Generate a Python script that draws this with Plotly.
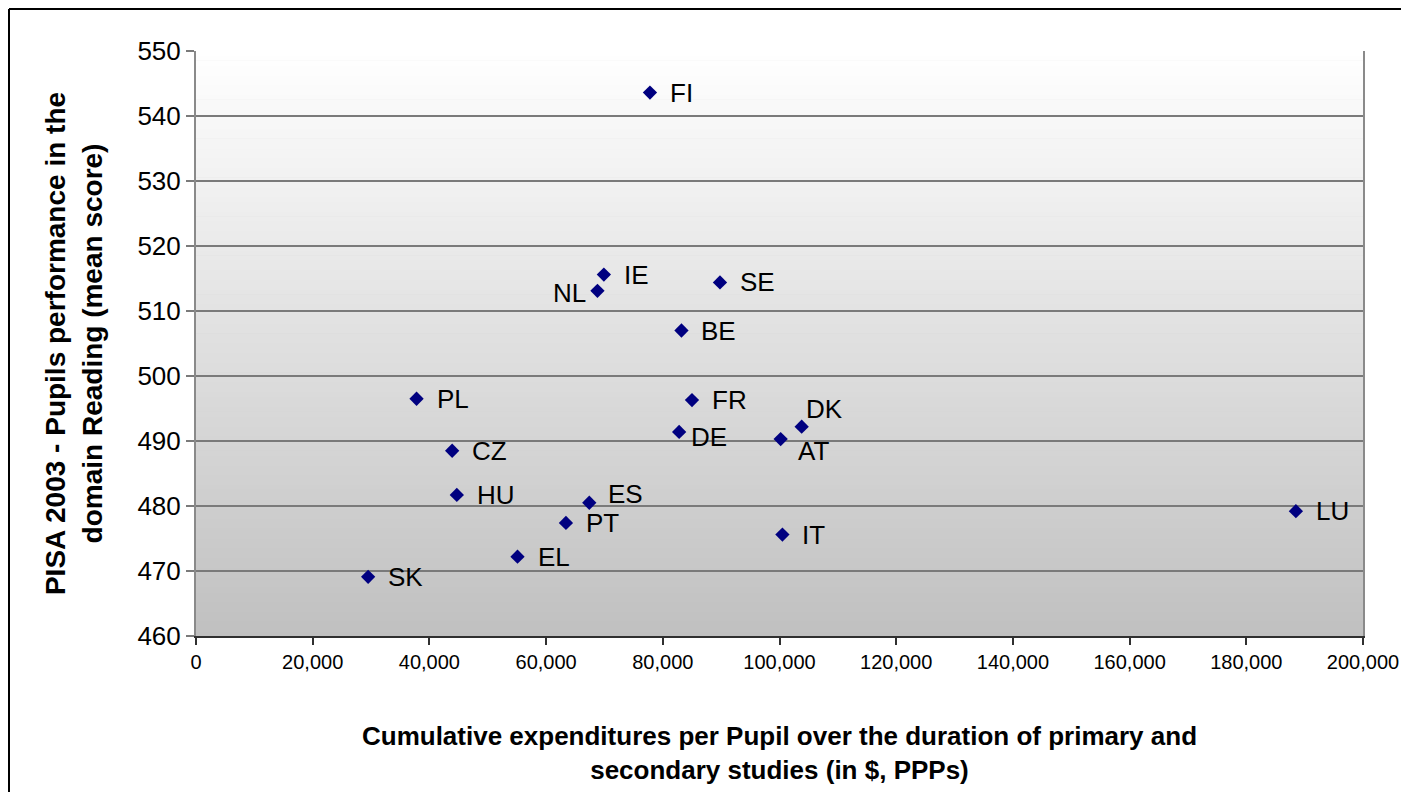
import plotly.graph_objects as go

# ---- data ----
countries = ["FI", "IE", "NL", "SE", "BE", "PL", "FR", "DK", "DE", "AT",
             "CZ", "HU", "ES", "PT", "LU", "IT", "EL", "SK"]
expenditure = [77800, 69900, 68800, 89800, 83200, 37800, 85000, 103800, 82800, 100200,
               43900, 44700, 67400, 63400, 188500, 100500, 55100, 29500]
reading_score = [543.6, 515.6, 513.1, 514.4, 507.0, 496.5, 496.3, 492.2, 491.4, 490.3,
                 488.5, 481.7, 480.5, 477.4, 479.2, 475.6, 472.2, 469.1]

x_ticks = [0, 20000, 40000, 60000, 80000, 100000, 120000, 140000, 160000, 180000, 200000]
y_ticks = [460, 470, 480, 490, 500, 510, 520, 530, 540, 550]

x_title = "Cumulative expenditures per Pupil over the duration of primary and<br>secondary studies (in $, PPPs)"
y_title = "PISA 2003 - Pupils performance in the<br>domain Reading (mean score)"

# label placement tweaks (styling only): (xanchor, xshift, yshift)
label_style = {
    "NL": ("right", -9, -2),
    "DK": ("left", 2, 18),
    "AT": ("left", 15, -12),
    "DE": ("left", 10, -5),
    "ES": ("left", 17, 9),
}
default_style = ("left", 18, 0)

# the page body adds an 8px margin, so the figure is offset by 8px
W, H = 1393, 784
L, R, T, B = 188, 38, 43, 156

FONT = "Liberation Sans, Arial, sans-serif"

fig = go.Figure()
fig.add_trace(go.Scatter(
    x=expenditure, y=reading_score, mode="markers",
    marker=dict(symbol="diamond", size=11, color="#000080", line=dict(width=0)),
    text=countries, hoverinfo="text+x+y", showlegend=False,
))

annotations = []
for c, xv, yv in zip(countries, expenditure, reading_score):
    anchor, xs, ys = label_style.get(c, default_style)
    annotations.append(dict(
        x=xv, y=yv, xref="x", yref="y", text=c, showarrow=False,
        xanchor=anchor, yanchor="middle", xshift=xs, yshift=ys,
        font=dict(family=FONT, size=26, color="#000000"),
    ))

# vertical gradient for the plot background: white on top, grey at the bottom
shapes = []
N = 120
top = (255, 255, 255)
bot = (192, 192, 192)
for i in range(N):
    t = (i + 0.5) / N
    col = tuple(round(bot[k] + (top[k] - bot[k]) * t) for k in range(3))
    shapes.append(dict(
        type="rect", xref="x domain", yref="y domain",
        x0=0, x1=1, y0=i / N, y1=(i + 1) / N + 0.001,
        fillcolor="rgb(%d,%d,%d)" % col, line=dict(width=0), layer="below",
    ))

# outer chart frame: only its left and top edges are visible in the reference
pw, ph = W - L - R, H - T - B
fx0 = (1 - L) / pw
fy1 = (H - B - 1) / ph
fy0 = (H - B - H) / ph
fx1 = (W - L) / pw
shapes.append(dict(type="line", xref="paper", yref="paper",
                   x0=fx0, x1=fx1, y0=fy1, y1=fy1,
                   line=dict(color="#000000", width=2), layer="above"))
shapes.append(dict(type="line", xref="paper", yref="paper",
                   x0=fx0, x1=fx0, y0=fy0, y1=fy1,
                   line=dict(color="#000000", width=2), layer="above"))

fig.update_layout(
    width=W, height=H,
    margin=dict(l=L, r=R, t=T, b=B, autoexpand=False),
    paper_bgcolor="#ffffff", plot_bgcolor="#c0c0c0",
    font=dict(family=FONT, color="#000000"),
    shapes=shapes, annotations=annotations,
    xaxis=dict(
        range=[0, 200000], tickvals=x_ticks, tickformat=",d",
        showgrid=False, zeroline=False,
        showline=True, linecolor="#303030", linewidth=2,
        ticks="outside", ticklen=7, tickcolor="#303030", tickwidth=1.5,
        tickfont=dict(size=20, color="#000000"),
        title=dict(text=x_title, standoff=55,
                   font=dict(size=26, weight="bold", color="#000000")),
        automargin=False,
    ),
    yaxis=dict(
        range=[460, 550], tickvals=y_ticks,
        showgrid=True, gridcolor="#7a7a7a", gridwidth=1.5,
        zeroline=False,
        showline=True, linecolor="#8a8a8a", linewidth=2, mirror=True,
        ticks="outside", ticklen=8, tickcolor="#7a7a7a", tickwidth=1.5,
        tickfont=dict(size=26, color="#000000"),
        title=dict(text=y_title, standoff=27,
                   font=dict(size=28, weight="bold", color="#000000")),
        automargin=False,
    ),
)

fig.write_html("out.html")
